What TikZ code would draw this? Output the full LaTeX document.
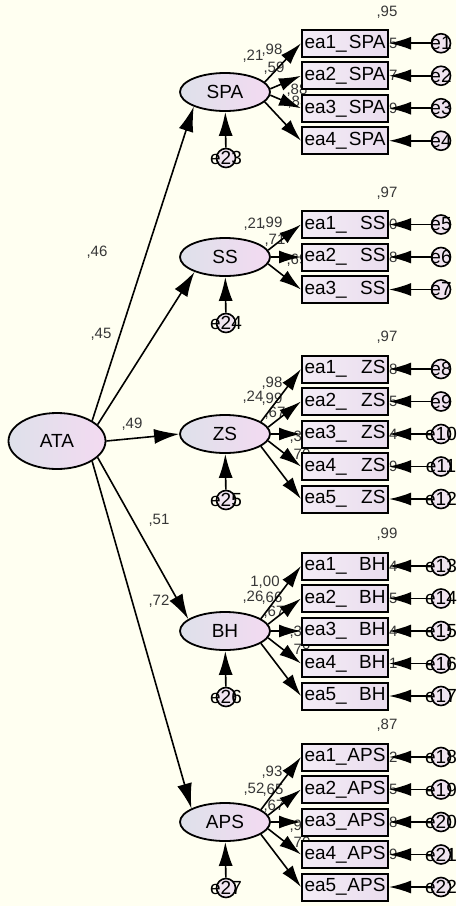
\documentclass[tikz,border=0pt]{standalone}
\usepackage{fontspec}
\setmainfont{Liberation Sans}
\usepackage{tikz}
\usetikzlibrary{shapes,arrows.meta,calc}

\definecolor{paper}{RGB}{255,255,241}
\definecolor{latleft}{RGB}{222,225,234}
\definecolor{latright}{RGB}{243,218,241}
\definecolor{obsfill}{RGB}{234,221,238}
\definecolor{errfill}{RGB}{240,228,240}
\definecolor{coefcol}{RGB}{55,55,55}

\newcommand{\semfont}{\fontsize{19}{19}\selectfont}
\newcommand{\errfont}{\fontsize{19}{19}\selectfont}
\newcommand{\coeffont}{\fontsize{15}{15}\selectfont}

\pgfdeclarelayer{bg}
\pgfdeclarelayer{under}
\pgfsetlayers{bg,under,main}

\begin{document}
\begin{tikzpicture}[x=1pt, y=-1pt,
        latent/.style={ellipse, draw, line width=1.8pt, minimum width=90pt, minimum height=38pt, inner sep=0pt, left color=latleft, right color=latright, font=\semfont},
        obs/.style={rectangle, draw, line width=2pt, minimum width=86pt, minimum height=27pt, inner sep=0pt, left color=obsfill!55!white, right color=obsfill, font=\semfont},
        err/.style={circle, draw, line width=1.6pt, minimum size=19pt, inner sep=0pt, fill=errfill},
        coef/.style={font=\coeffont, text=coefcol, inner sep=0pt},
        arr/.style={line width=1.6pt, -{Latex[length=22pt,width=13pt]}}
    ]
    \node[latent, minimum width=97pt, minimum height=56pt] (ATA) at (57,441) {ATA};

    % one block per factor: latent, its disturbance, the indicators and their errors
    \foreach \lat/\ly/\n/\first/\ek in {SPA/92/4/1/23, SS/257/3/5/24, ZS/434/5/8/25, BH/631/5/13/26, APS/822/5/18/27} {
        \node[latent] (\lat) at (225,\ly) {\lat};
        \node[err, label={center:{\errfont e\ek}}] (e\ek) at (226,\ly+66) {};
        \draw[arr, -{Latex[length=24pt,width=14pt]}] (e\ek) -- (\lat);   % disturbance
        \foreach \k in {1,...,\n} {
            \pgfmathsetmacro\by{\ly+(\k-(\n+1)/2)*32.5}
            \pgfmathtruncatemacro\ei{\first+\k-1}
            \pgfmathtruncatemacro\sa{-0.3*(\by-\ly)}
            \node[obs] (\lat-\k) at (345,\by) {\hbox to 81pt{ea\k\_\hfill\lat}};
            \node[err, label={center:{\errfont e\ei}}] (e\ei) at (441,\by) {};
            \draw[arr] (e\ei) -- (\lat-\k);          % error into indicator
            \draw[arr] (\lat.\sa) -- (\lat-\k.west);  % loading
        }
    }

    % paths from ATA to the five factors
    \draw[arr, -{Latex[length=25pt,width=15pt]}] (ATA.30) -- (SPA.205);
    \draw[arr, -{Latex[length=25pt,width=15pt]}] (ATA.22) -- (SS.206);
    \draw[arr, -{Latex[length=25pt,width=15pt]}] (ATA.east) -- (ZS.west);
    \draw[arr, -{Latex[length=25pt,width=15pt]}] (ATA.-22) -- (BH.162);
    \draw[arr, -{Latex[length=25pt,width=15pt]}] (ATA.-30) -- (APS.158);

    \begin{pgfonlayer}{under}
        % standardized path estimates
        \node[coef] at (97,252) {,46};
        \node[coef] at (101,334) {,45};
        \node[coef] at (132,424) {,49};
        \node[coef] at (159,520) {,51};
        \node[coef] at (159,601) {,72};

        % R-squared of the factors and the loadings
        \foreach \dx/\dy/\v in {28/-36/21, 47/-42/98, 49/-24/59, 72/-2/88, 73/10/83}
            \node[coef] at ($(SPA)+(\dx,\dy)$) {,\v};
        \foreach \dx/\dy/\v in {29/-33/21, 47/-34/99, 50/-17/71, 72/3/69}
            \node[coef] at ($(SS)+(\dx,\dy)$) {,\v};
        \foreach \dx/\dy/\v in {28/-37/24, 47/-51/98, 47/-35/99, 50/-21/67, 75/3/38, 75/21/70}
            \node[coef] at ($(ZS)+(\dx,\dy)$) {,\v};
        \foreach \dx/\dy/\v in {28/-34/26, 47/-33/66, 49/-19/67, 75/1/38, 75/19/78}
            \node[coef] at ($(BH)+(\dx,\dy)$) {,\v};
        \node[coef] at ($(BH)+(40,-49)$) {1,00};
        \foreach \dx/\dy/\v in {29/-33/52, 47/-50/93, 48/-32/65, 49/-16/67, 75/4/99, 75/21/70}
            \node[coef] at ($(APS)+(\dx,\dy)$) {,\v};

        % R-squared of the indicators, tucked under the box above
        \foreach \v [count=\k] in {95,35,77,69}
            \node[coef] at ($(SPA-\k.north east)+(-2,-17)$) {,\v};
        \foreach \v [count=\k] in {97,50,48}
            \node[coef] at ($(SS-\k.north east)+(-2,-17)$) {,\v};
        \foreach \v [count=\k] in {97,98,45,14,49}
            \node[coef] at ($(ZS-\k.north east)+(-2,-17)$) {,\v};
        \foreach \v [count=\k] in {99,44,45,14,61}
            \node[coef] at ($(BH-\k.north east)+(-2,-17)$) {,\v};
        \foreach \v [count=\k] in {87,42,45,98,49}
            \node[coef] at ($(APS-\k.north east)+(-2,-17)$) {,\v};
    \end{pgfonlayer}

    \begin{pgfonlayer}{bg}
        \fill[paper] (0,0) rectangle (456,906);
    \end{pgfonlayer}
\end{tikzpicture}
\end{document}
